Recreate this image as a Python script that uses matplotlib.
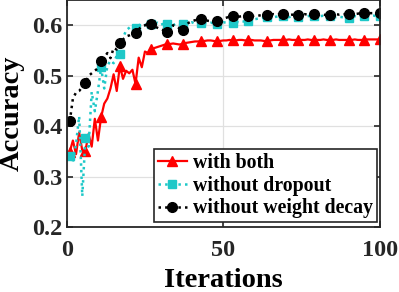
import numpy as np
import matplotlib
matplotlib.use('Agg')
import matplotlib.pyplot as plt

plt.rcParams['font.family'] = ['Liberation Serif', 'DejaVu Serif']
plt.rcParams['font.weight'] = 'bold'

iterations = np.arange(1, 101)

# with both
acc_both = [
    0.350, 0.372, 0.345, 0.388, 0.352, 0.352, 0.385, 0.360, 0.415, 0.372,
    0.418, 0.445, 0.455, 0.475, 0.503, 0.470, 0.520, 0.494, 0.510, 0.505,
    0.512, 0.484, 0.536, 0.517, 0.548, 0.545, 0.553, 0.555, 0.557, 0.559,
    0.561, 0.563, 0.563, 0.564, 0.563, 0.562, 0.563, 0.565, 0.566, 0.567,
    0.568, 0.568, 0.569, 0.569, 0.570, 0.570, 0.569, 0.568, 0.569, 0.570,
    0.570, 0.571, 0.570, 0.570, 0.571, 0.571, 0.570, 0.571, 0.571, 0.570,
    0.570, 0.570, 0.569, 0.569, 0.570, 0.571, 0.571, 0.571, 0.571, 0.571,
    0.572, 0.571, 0.571, 0.571, 0.571, 0.571, 0.572, 0.571, 0.571, 0.571,
    0.571, 0.572, 0.571, 0.571, 0.571, 0.572, 0.571, 0.571, 0.571, 0.571,
    0.571, 0.572, 0.571, 0.571, 0.571, 0.572, 0.572, 0.572, 0.572, 0.572,
]

# without dropout
acc_no_dropout = [
    0.341, 0.330, 0.365, 0.420, 0.262, 0.377, 0.360, 0.468, 0.430, 0.470,
    0.517, 0.475, 0.520, 0.530, 0.525, 0.540, 0.544, 0.575, 0.590, 0.595,
    0.600, 0.595, 0.600, 0.602, 0.600, 0.605, 0.603, 0.600, 0.605, 0.601,
    0.603, 0.602, 0.605, 0.600, 0.604, 0.603, 0.602, 0.600, 0.604, 0.606,
    0.603, 0.605, 0.605, 0.604, 0.603, 0.605, 0.604, 0.602, 0.604, 0.606,
    0.605, 0.604, 0.605, 0.607, 0.606, 0.608, 0.607, 0.608, 0.610, 0.612,
    0.613, 0.614, 0.615, 0.616, 0.617, 0.616, 0.617, 0.618, 0.618, 0.617,
    0.616, 0.618, 0.617, 0.617, 0.618, 0.617, 0.618, 0.619, 0.618, 0.617,
    0.618, 0.619, 0.618, 0.618, 0.617, 0.616, 0.617, 0.616, 0.615, 0.615,
    0.617, 0.618, 0.617, 0.618, 0.618, 0.617, 0.618, 0.619, 0.618, 0.619,
]

# without weight decay
acc_no_decay = [
    0.410, 0.455, 0.467, 0.470, 0.478, 0.486, 0.500, 0.505, 0.510, 0.515,
    0.530, 0.536, 0.545, 0.535, 0.555, 0.552, 0.564, 0.572, 0.578, 0.580,
    0.583, 0.585, 0.592, 0.598, 0.600, 0.602, 0.603, 0.598, 0.595, 0.592,
    0.590, 0.587, 0.595, 0.600, 0.598, 0.594, 0.591, 0.600, 0.605, 0.608,
    0.610, 0.611, 0.612, 0.611, 0.609, 0.608, 0.608, 0.609, 0.611, 0.613,
    0.615, 0.617, 0.619, 0.618, 0.617, 0.618, 0.619, 0.618, 0.618, 0.619,
    0.620, 0.619, 0.620, 0.620, 0.621, 0.622, 0.621, 0.622, 0.622, 0.621,
    0.620, 0.621, 0.620, 0.620, 0.621, 0.622, 0.621, 0.622, 0.622, 0.621,
    0.620, 0.621, 0.620, 0.620, 0.621, 0.622, 0.621, 0.622, 0.622, 0.622,
    0.623, 0.622, 0.623, 0.624, 0.624, 0.623, 0.624, 0.624, 0.623, 0.624,
]

labels = ['with both', 'without dropout', 'without weight decay']

# markers on 20 evenly spread points, like MATLAB MarkerIndices
marks = list(np.round(np.linspace(0, 99, 20)).astype(int))

fig = plt.figure(figsize=(3.99, 2.92), dpi=100)
ax = fig.add_axes([0.167, 0.221, 0.785, 0.779])

ax.plot(iterations, acc_both, color='#ff0000', lw=1.6, ls='-',
        marker='^', ms=7, markevery=marks, label=labels[0])
ax.plot(iterations, acc_no_dropout, color='#1ec8c8', lw=1.8, ls=':',
        marker='s', ms=6, markevery=marks, label=labels[1])
ax.plot(iterations, acc_no_decay, color='black', lw=1.8, ls=':',
        marker='o', ms=7, markevery=marks, label=labels[2])

ax.set_xlim(0, 100)
ax.set_ylim(0.2, 0.65)
ax.set_xticks([0, 50, 100])
ax.set_yticks([0.2, 0.3, 0.4, 0.5, 0.6])
ax.set_yticklabels(['0.2', '0.3', '0.4', '0.5', '0.6'])
ax.grid(True, color='#e0e0e0', lw=0.9)
ax.set_axisbelow(True)
ax.tick_params(direction='in', length=4, width=1.2, labelsize=17.5,
               right=True, top=True, colors='#262626', pad=3)
ax.tick_params(axis='x', pad=9)
for lab in ax.get_xticklabels() + ax.get_yticklabels():
    lab.set_fontweight('bold')
for s in ax.spines.values():
    s.set_color('#262626')
    s.set_linewidth(1.3)

ax.set_xlabel('Iterations', fontsize=20.5, fontweight='bold', labelpad=5)
ax.set_ylabel('Accuracy', fontsize=20.5, fontweight='bold', labelpad=5)

leg = ax.legend(loc='lower right', bbox_to_anchor=(0.99, 0.022),
                fontsize=14.3, handlelength=1.45, handletextpad=0.3,
                labelspacing=0.15, borderpad=0.2, borderaxespad=0,
                fancybox=False, framealpha=1, edgecolor='#262626')
leg.get_frame().set_linewidth(1.2)
for t in leg.get_texts():
    t.set_fontweight('bold')

fig.savefig('out.png', dpi=100)
